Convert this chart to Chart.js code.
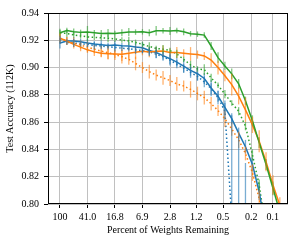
<!DOCTYPE html>
<html lang="en">
<head>
<meta charset="UTF-8">
<script src="https://cdn.jsdelivr.net/npm/chart.js"></script>
<title>Test Accuracy</title>
<style>
  body { margin: 0; background: #fff; }
</style>
</head>
<body>
<canvas id="myChart" width="302" height="245"></canvas>
<script>
// percent of weights remaining (one point per pruning round)
const percentRemaining = [100, 80.0, 64.0, 51.2, 41.0, 32.8, 26.2, 21.0, 16.8, 13.4, 10.7, 8.59, 6.87, 5.50, 4.40, 3.52,
    2.81, 2.25, 1.80, 1.44, 1.15, 0.922, 0.738, 0.590, 0.472, 0.378, 0.302, 0.242, 0.193, 0.155, 0.124, 0.0990, 0.0792];

const tickValues = [100, 41.0, 16.8, 6.9, 2.8, 1.2, 0.5, 0.2, 0.1];
const tickLabels = ['100', '41.0', '16.8', '6.9', '2.8', '1.2', '0.5', '0.2', '0.1'];

const blueSolid = [0.918, 0.9195, 0.9195, 0.919, 0.918, 0.9172, 0.9168, 0.9162, 0.9165, 0.916, 0.9158, 0.915, 0.9145, 0.9125, 0.911, 0.9088,
    0.9065, 0.904, 0.901, 0.898, 0.8955, 0.892, 0.885, 0.879, 0.8708, 0.8625, 0.852, 0.842, 0.829, 0.809, 0.78];
const blueSolidErr = [0.004, 0.002, 0.003, 0.002, 0.003, 0.002, 0.003, 0.002, 0.003, 0.002, 0.003, 0.003, 0.004, 0.003, 0.004, 0.003,
    0.004, 0.003, 0.005, 0.004, 0.005, 0.004, 0.006, 0.004, 0.005, 0.004, 0.004, 0.005, 0.005, 0.006, 0.006];

const blueDotted = [0.9205, 0.9185, 0.918, 0.9175, 0.917, 0.9162, 0.9158, 0.9152, 0.9148, 0.9142, 0.9138, 0.913, 0.9125, 0.9115, 0.9098, 0.908,
    0.9055, 0.9025, 0.8995, 0.8965, 0.8935, 0.8895, 0.8845, 0.878, 0.868, 0.79, 0.45, 0.30];
const blueDottedErr = [0.003, 0.002, 0.003, 0.002, 0.002, 0.003, 0.002, 0.002, 0.003, 0.002, 0.002, 0.003, 0.002, 0.003, 0.003, 0.003,
    0.004, 0.003, 0.003, 0.004, 0.003, 0.004, 0.004, 0.005, 0.006, 0.075, 0.40, 0.53];

const orangeSolid = [0.9215, 0.9195, 0.917, 0.915, 0.913, 0.9115, 0.9105, 0.9102, 0.910, 0.9098, 0.9105, 0.9112, 0.912, 0.9115, 0.912, 0.9122,
    0.911, 0.911, 0.9105, 0.910, 0.9095, 0.9085, 0.9055, 0.900, 0.894, 0.8875, 0.879, 0.869, 0.858, 0.846, 0.831, 0.814, 0.799];
const orangeSolidErr = [0.004, 0.003, 0.002, 0.003, 0.002, 0.003, 0.003, 0.004, 0.003, 0.005, 0.004, 0.005, 0.003, 0.004, 0.003, 0.004,
    0.003, 0.004, 0.003, 0.005, 0.003, 0.003, 0.005, 0.005, 0.004, 0.008, 0.006, 0.009, 0.006, 0.008, 0.007, 0.007, 0.006];

const orangeDotted = [0.9215, 0.9195, 0.918, 0.9165, 0.915, 0.9135, 0.912, 0.911, 0.9095, 0.908, 0.906, 0.903, 0.900, 0.897, 0.8945, 0.8925,
    0.8905, 0.888, 0.8865, 0.884, 0.881, 0.878, 0.8735, 0.8685, 0.8625, 0.855, 0.847, 0.837, 0.823, 0.804, 0.78];
const orangeDottedErr = [0.003, 0.003, 0.004, 0.003, 0.004, 0.003, 0.004, 0.005, 0.004, 0.005, 0.004, 0.005, 0.004, 0.005, 0.004, 0.005,
    0.004, 0.005, 0.004, 0.006, 0.005, 0.005, 0.005, 0.004, 0.006, 0.005, 0.006, 0.005, 0.006, 0.006, 0.006];

const greenSolid = [0.9255, 0.9272, 0.9262, 0.9258, 0.926, 0.9255, 0.925, 0.9252, 0.925, 0.9255, 0.926, 0.926, 0.9262, 0.9255, 0.927, 0.927,
    0.9268, 0.9272, 0.9262, 0.9248, 0.9245, 0.9238, 0.9158, 0.9073, 0.9012, 0.8954, 0.8881, 0.8757, 0.861, 0.845, 0.829, 0.8115, 0.794];
const greenSolidErr = [0.003, 0.002, 0.0025, 0.002, 0.0045, 0.002, 0.0025, 0.003, 0.002, 0.0025, 0.003, 0.002, 0.002, 0.0025, 0.0035, 0.002,
    0.003, 0.002, 0.0025, 0.002, 0.002, 0.002, 0.003, 0.004, 0.003, 0.004, 0.0035, 0.003, 0.004, 0.004, 0.004, 0.005, 0.005];

const greenDotted = [0.9255, 0.925, 0.924, 0.9232, 0.9225, 0.9222, 0.9218, 0.9215, 0.921, 0.9202, 0.9195, 0.9185, 0.917, 0.9155, 0.914, 0.9135,
    0.9125, 0.910, 0.906, 0.902, 0.899, 0.8985, 0.8925, 0.887, 0.8806, 0.874, 0.868, 0.857, 0.836, 0.814, 0.78];
const greenDottedErr = [0.002, 0.003, 0.002, 0.002, 0.003, 0.002, 0.002, 0.003, 0.002, 0.002, 0.003, 0.002, 0.002, 0.003, 0.002, 0.003,
    0.002, 0.003, 0.002, 0.003, 0.002, 0.004, 0.003, 0.002, 0.003, 0.002, 0.003, 0.003, 0.004, 0.004, 0.004];

const BLUE = '#1f77b4', ORANGE = '#ff7f0e', GREEN = '#2ca02c';

function series(values, errs, color, dotted) {
    return {
        data: values.map((v, i) => ({x: percentRemaining[i], y: v})),
        errors: errs,
        borderColor: color,
        errColor: color,
        borderWidth: 1.5,
        borderDash: dotted ? [1.5, 2.5] : [],
        pointRadius: 0,
        fill: false,
        tension: 0
    };
}

// vertical error bars drawn through the chart scales
const errorBars = {
    id: 'errorBars',
    afterDatasetsDraw(chart) {
        const {ctx, chartArea, scales} = chart;
        ctx.save();
        ctx.beginPath();
        ctx.rect(chartArea.left, chartArea.top, chartArea.right - chartArea.left, chartArea.bottom - chartArea.top);
        ctx.clip();
        ctx.globalAlpha = 0.6;
        ctx.lineWidth = 1.3;
        chart.data.datasets.forEach(ds => {
            ctx.strokeStyle = ds.errColor;
            ds.data.forEach((p, i) => {
                const e = ds.errors[i];
                if (!e) return;
                const px = scales.x.getPixelForValue(p.x);
                ctx.beginPath();
                ctx.moveTo(px, scales.y.getPixelForValue(p.y - e));
                ctx.lineTo(px, scales.y.getPixelForValue(p.y + e));
                ctx.stroke();
            });
        });
        ctx.restore();
    }
};

// black box round the plot area
const frame = {
    id: 'frame',
    afterDraw(chart) {
        const {ctx, chartArea: a} = chart;
        ctx.save();
        ctx.strokeStyle = '#000';
        ctx.lineWidth = 1;
        ctx.strokeRect(Math.round(a.left) + 0.5, Math.round(a.top) + 0.5,
            Math.round(a.right - a.left) - 1, Math.round(a.bottom - a.top) - 1);
        ctx.restore();
    }
};

Chart.defaults.font.family = '"Liberation Serif", "DejaVu Serif", serif';
Chart.defaults.font.size = 10;
Chart.defaults.color = '#000';

new Chart(document.getElementById('myChart'), {
    type: 'line',
    data: {
        datasets: [
            series(greenSolid, greenSolidErr, GREEN, false),
            series(orangeSolid, orangeSolidErr, ORANGE, false),
            series(blueSolid, blueSolidErr, BLUE, false),
            series(greenDotted, greenDottedErr, GREEN, true),
            series(orangeDotted, orangeDottedErr, ORANGE, true),
            series(blueDotted, blueDottedErr, BLUE, true)
        ]
    },
    options: {
        responsive: false,
        animation: false,
        layout: {padding: {top: 13, right: 14, left: 0, bottom: 0}},
        plugins: {legend: {display: false}, tooltip: {enabled: false}},
        scales: {
            x: {
                type: 'logarithmic',
                reverse: true,
                bounds: 'data',
                min: 0.0608,
                max: 147.6,
                afterBuildTicks: s => { s.ticks = tickValues.map(v => ({value: v})); },
                afterFit: s => { s.height = 41; },
                ticks: {
                    autoSkip: false,
                    maxRotation: 0,
                    padding: 3,
                    callback: (v, i) => tickLabels[i]
                },
                grid: {color: '#c0c0c0', lineWidth: 1, tickColor: '#000', tickLength: 4},
                border: {display: false},
                title: {display: true, text: 'Percent of Weights Remaining', padding: {top: 0, bottom: 9}}
            },
            y: {
                min: 0.80,
                max: 0.94,
                afterFit: s => { s.width = 48; },
                ticks: {
                    stepSize: 0.02,
                    padding: 5,
                    callback: v => v.toFixed(2)
                },
                grid: {color: '#c0c0c0', lineWidth: 1, tickColor: '#000', tickLength: 4},
                border: {display: false},
                title: {display: true, text: 'Test Accuracy (112K)', padding: {top: 4, bottom: 0}}
            }
        }
    },
    plugins: [errorBars, frame]
});
</script>
</body>
</html>
